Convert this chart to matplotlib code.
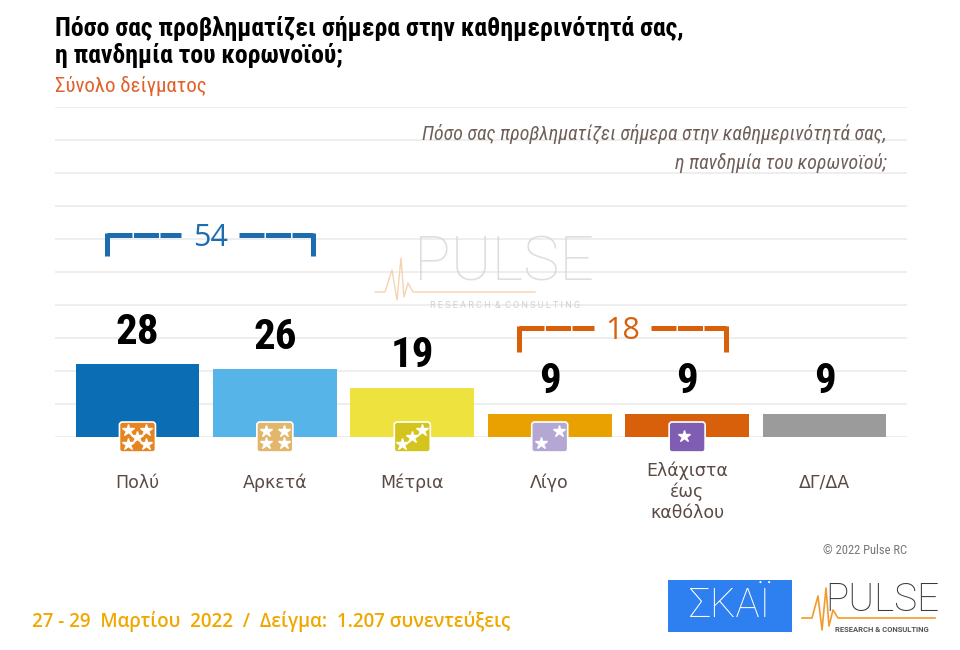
import numpy as np
import matplotlib
matplotlib.use("Agg")
import matplotlib.pyplot as plt
from matplotlib.patches import FancyBboxPatch, Rectangle
from matplotlib.transforms import IdentityTransform

# data
categories = ["Πολύ", "Αρκετά", "Μέτρια", "Λίγο", "Ελάχιστα\nέως\nκαθόλου", "ΔΓ/ΔΑ"]
values = [28, 26, 19, 9, 9, 9]
bar_colors = ["#0B6EB5", "#56B4E8", "#EEE23E", "#E8A100", "#D9600B", "#9B9B9B"]
icon_colors = ["#E8841F", "#E3B76B", "#D4C41E", "#B4A7D3", "#7E5DB3", None]
star_counts = [5, 4, 3, 2, 1, 0]
groups = [(0, 1, "#1C6DB0"), (3, 4, "#D9600B")]

title = "Πόσο σας προβληματίζει σήμερα στην καθημερινότητά σας,\nη πανδημία του κορωνοϊού;"
subtitle = "Σύνολο δείγματος"
footer = "27 - 29  Μαρτίου  2022  /  Δείγμα:  1.207 συνεντεύξεις"

NARROW = ["Liberation Sans Narrow", "Roboto Condensed", "Liberation Sans", "DejaVu Sans"]
W, H = 960, 650


def fpx(x, y):
    # pixel (from top-left) -> figure fraction
    return x / W, 1 - y / H


fig = plt.figure(figsize=(9.6, 6.5), dpi=100)
fig.patch.set_facecolor("white")

# main axes: 55..907 px wide, 107..437 px high
ymax = 330 / 2.6
ax = fig.add_axes([55 / W, 1 - 437 / H, 852 / W, 330 / H])
ax.set_xlim(-0.6, 5.6)
ax.set_ylim(0, ymax)
ax.set_yticks(np.linspace(0, ymax, 11))
ax.yaxis.grid(True, color="#EDEDED", lw=1.3)
ax.set_axisbelow(True)
ax.tick_params(left=False, bottom=False, labelleft=False, labelbottom=False)
for s in ax.spines.values():
    s.set_visible(False)

x = np.arange(len(values))
ax.bar(x, values, width=0.9, color=bar_colors, zorder=2)

for i, v in enumerate(values):
    ax.annotate(str(v), (i, v), xytext=(0, 23), textcoords="offset points",
                ha="center", va="center", fontsize=31, fontweight="bold",
                family=NARROW, color="black")
    nlines = categories[i].count("\n") + 1
    ax.annotate(categories[i], (i, 0), xytext=(0, -33 - (nlines - 1) * 3.2),
                textcoords="offset points", ha="center", va="center",
                fontsize=12.5, color="#5B4A43", linespacing=1.2)

# icons under the bars
star_layouts = {
    5: [(-9, 7), (9, 7), (0, 0), (-9, -7), (9, -7)],
    4: [(-9, 6), (9, 6), (-9, -6), (9, -6)],
    3: [(-10, -7), (0, 0), (10, 7)],
    2: [(9, 6), (-9, -6)],
    1: [(-3, 1)],
}
fig.canvas.draw()
for i, c in enumerate(icon_colors):
    if c is None:
        continue
    cx, cy = ax.transData.transform((i, 0))
    icon = FancyBboxPatch((cx - 18, cy - 15), 36, 30,
                          boxstyle="round,pad=0,rounding_size=3",
                          fc=c, ec="white", lw=1.2,
                          transform=IdentityTransform(), zorder=3, clip_on=False)
    ax.add_patch(icon)
    pts = star_layouts[star_counts[i]]
    ax.plot([cx + p[0] for p in pts], [cy + p[1] for p in pts], ls="none",
            marker="*", ms=9, color="white", mec="white",
            transform=IdentityTransform(), zorder=4, clip_on=False)

# brackets for the combined groups
bracket_y = {0: (69.6, 77.7), 3: (32.7, 41.9)}
for a, b, col in groups:
    y0, y1 = bracket_y[a]
    xl, xr = a - 0.22, b + 0.28
    xm = (xl + xr) / 2
    ax.plot([xl, xl], [y0, y1 + 0.8], color=col, lw=3.6, solid_capstyle="butt", clip_on=False)
    ax.plot([xr, xr], [y0, y1 + 0.8], color=col, lw=3.6, solid_capstyle="butt", clip_on=False)
    ax.plot([xl, xm - 0.21], [y1, y1], color=col, lw=3.6, dashes=(5, 0.3), clip_on=False)
    ax.plot([xm + 0.21, xr], [y1, y1], color=col, lw=3.6, dashes=(5, 0.3), clip_on=False)
    ax.text(xm, y1 - 1.0, str(sum(values[a:b + 1])), ha="center", va="center",
            fontsize=22, color=col, family=["Open Sans", "DejaVu Sans"])

# texts
fig.text(*fpx(55, 42), title, ha="left", va="center", fontsize=18.5, fontweight="bold",
         family=NARROW, color="black", linespacing=1.1)
fig.text(*fpx(55, 86), subtitle, ha="left", va="center", fontsize=15,
         family=NARROW, color="#E0622A")
fig.text(*fpx(887, 148), title, ha="right", va="center", fontsize=14.3, style="italic",
         family=NARROW, color="#6E5F58", linespacing=1.55)
fig.text(*fpx(907, 551), "© 2022 Pulse RC", ha="right", va="center", fontsize=9,
         family=NARROW, color="#777777")
fig.text(*fpx(32, 621), footer, ha="left", va="center", fontsize=13.5, fontweight="semibold",
         family=["Open Sans", "DejaVu Sans"], color="#F0A800")

# watermark
fig.text(*fpx(504, 264), "PULSE", ha="center", va="center", fontsize=44,
         family=["Roboto", "DejaVu Sans"], fontweight="light", color="#D6D6D6", alpha=0.8)
fig.text(*fpx(505, 305), "R E S E A R C H  &  C O N S U L T I N G", ha="center", va="center",
         fontsize=6.5, family=["Roboto", "DejaVu Sans"], color="#D0D0D0")
wx = np.array([375, 385, 392, 397, 401, 404, 408, 413, 535])
wy = np.array([292, 292, 270, 300, 258, 297, 283, 292, 292])
fig.add_artist(plt.Line2D(*np.array(fpx(wx, wy)), color="#F5D3B0", lw=1))

# logos bottom right
x0, y0 = fpx(668, 632)
fig.add_artist(Rectangle((x0, y0), 124 / W, 52 / H, transform=fig.transFigure,
                         fc="#2E7FEF", ec="none"))
fig.text(*fpx(730, 606), "ΣΚΑΪ", ha="center", va="center", fontsize=29,
         family=["Roboto", "DejaVu Sans"], fontweight="light", color="white")
fig.text(*fpx(882, 600), "PULSE", ha="center", va="center", fontsize=28,
         family=["Roboto", "DejaVu Sans"], fontweight="light", color="#3A3A3A")
fig.text(*fpx(882, 629), "RESEARCH & CONSULTING", ha="center", va="center", fontsize=5.5,
         family=["Roboto", "DejaVu Sans"], fontweight="bold", color="#555555")
lx = np.array([802, 812, 818, 822, 826, 829, 833, 838, 935])
ly = np.array([618, 618, 596, 630, 588, 626, 610, 618, 618])
fig.add_artist(plt.Line2D(*np.array(fpx(lx, ly)), color="#F39A2B", lw=1.2))

fig.savefig("out.png", dpi=100)
